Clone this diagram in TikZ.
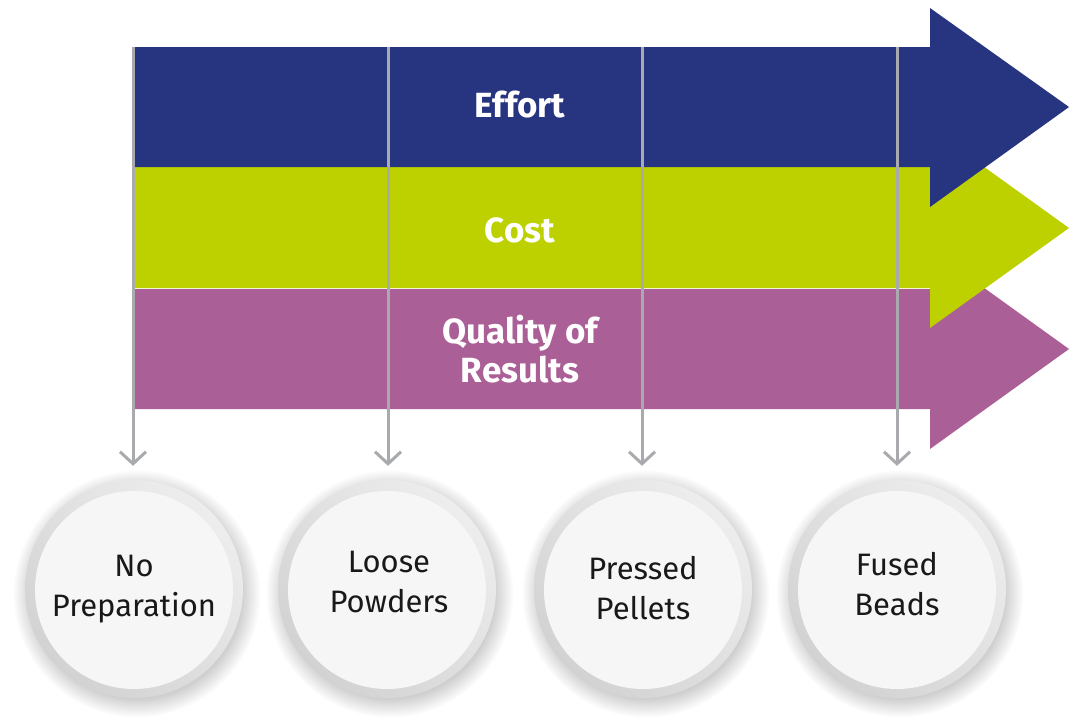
\documentclass[tikz,border=0pt]{standalone}
\usepackage{fontspec}
\setmainfont{Fira Sans}
\usetikzlibrary{arrows.meta}
\definecolor{effortblue}{HTML}{27347F}
\definecolor{costgreen}{HTML}{BDD000}
\definecolor{qualpurple}{HTML}{AB5F97}
\definecolor{guidegray}{HTML}{A9AAAD}
\definecolor{ringlight}{HTML}{EDEDED}
\definecolor{ringdark}{HTML}{D2D2D2}
\definecolor{innerfill}{HTML}{F6F6F6}
\tikzset{
  bandlabel/.style={text=white,font=\fontsize{35}{39}\selectfont\bfseries,align=center},
  ring/.style={circle,minimum size=218pt,inner sep=0pt,
    left color=ringlight,right color=ringdark,shading angle=-45},
  disc/.style={circle,minimum size=198pt,inner sep=0pt,fill=innerfill},
  disclabel/.style={font=\fontsize{31}{40}\selectfont,align=center,text=black!90},
  guide/.style={guidegray,line width=3pt,
    -{Straight Barb[length=12pt,width=26pt,line width=3pt]},shorten >=14pt},
  softshadow/.style={black,opacity=0.014}
}
\begin{document}
\begin{tikzpicture}[x=1pt,y=-1pt]
\useasboundingbox[fill=white] (0,0) rectangle (1081,723);
% bands (drawn bottom to top so upper heads overlap)
\fill[qualpurple] (133,288) -- (930,288) -- (930,249) -- (1069,349) -- (930,449) -- (930,409) -- (133,409) -- cycle;
\fill[costgreen] (133,167) -- (930,167) -- (930,128) -- (1069,228) -- (930,328) -- (930,288) -- (133,288) -- cycle;
\fill[effortblue] (133,47) -- (930,47) -- (930,8) -- (1069,107) -- (930,207) -- (930,167) -- (133,167) -- cycle;
\draw[white!80!costgreen,line width=0.8pt] (133,288) -- (930,288);
\node[bandlabel] (effort) at (520,105) {Effort};
\node[bandlabel] (cost) at (520,230) {Cost};
\node[bandlabel] (quality) at (520,349) {Quality of\\Results};
% circle positions
\coordinate (p1) at (134,589);
\coordinate (p2) at (387,589);
\coordinate (p3) at (643,589);
\coordinate (p4) at (897,589);
% soft shadows
\foreach \p in {p1,p2,p3,p4}{
  \foreach \k in {1,...,12}{
    \fill[softshadow] ([shift={(3,5)}]\p) circle ({104+\k*1.6});
  }
}
% circles
\node[ring] (r1) at (p1) {};
\node[ring] (r2) at (p2) {};
\node[ring] (r3) at (p3) {};
\node[ring] (r4) at (p4) {};
\node[disc] (c1) at ([yshift=-1pt]p1) {};
\node[disc] (c2) at ([yshift=-1pt]p2) {};
\node[disc] (c3) at ([yshift=-1pt]p3) {};
\node[disc] (c4) at ([yshift=-1pt]p4) {};
\node[disclabel] (l1) at (134,589) {No\\Preparation};
\node[disclabel] (l2) at (389,582) {Loose\\Powders};
\node[disclabel] (l3) at (643,588) {Pressed\\Pellets};
\node[disclabel] (l4) at (897,584) {Fused\\Beads};
% guide lines
\coordinate (t1) at (133,47);
\coordinate (t2) at (388,47);
\coordinate (t3) at (642,47);
\coordinate (t4) at (897,47);
\draw[guide] (t1) -- (t1 |- r1.north);
\draw[guide] (t2) -- (t2 |- r2.north);
\draw[guide] (t3) -- (t3 |- r3.north);
\draw[guide] (t4) -- (t4 |- r4.north);
\end{tikzpicture}
\end{document}
